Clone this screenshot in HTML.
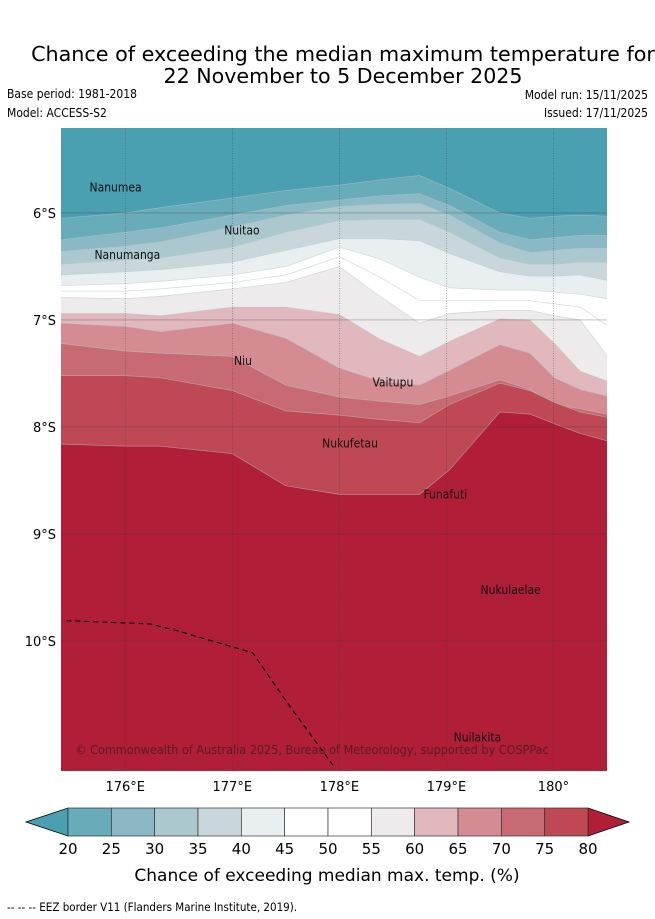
<!DOCTYPE html>
<html><head><meta charset="utf-8">
<style>
html,body{margin:0;padding:0;background:#fff;}
svg{display:block;font-family:"DejaVu Sans","Liberation Sans",sans-serif;}
.cond{font-family:"DejaVu Sans Condensed","DejaVu Sans","Liberation Sans",sans-serif;font-stretch:condensed;}
</style></head>
<body>
<svg id="chart" width="655" height="919" viewBox="0 0 655 919" xmlns="http://www.w3.org/2000/svg">
<text x="343" y="61" font-size="20.7" text-anchor="middle" fill="#000">Chance of exceeding the median maximum temperature for</text>
<text x="343" y="83" font-size="20.6" text-anchor="middle" fill="#000">22 November to 5 December 2025</text>
<text class="cond" x="7" y="98" font-size="12">Base period: 1981-2018</text>
<text class="cond" x="7" y="117" font-size="12">Model: ACCESS-S2</text>
<text class="cond" x="648" y="99" font-size="12" text-anchor="end">Model run: 15/11/2025</text>
<text class="cond" x="648" y="117" font-size="12" text-anchor="end">Issued: 17/11/2025</text>
<defs><clipPath id="mapclip"><rect x="61" y="128" width="546" height="643"/></clipPath></defs>
<g id="map" clip-path="url(#mapclip)"></g>
<g id="axes"></g>
<g id="cbar"></g>
<text x="327" y="881" font-size="17" text-anchor="middle">Chance of exceeding median max. temp. (%)</text>
<text class="cond" x="7" y="911" font-size="11.5">--  --  -- EEZ border V11 (Flanders Marine Institute, 2019).</text>
</svg>
<script>
// ---- data ----
const lons = [175.40,176.00,176.33,177.00,177.50,178.00,178.38,178.75,179.03,179.50,179.78,180.01,180.25,180.50];
const levels = [20,25,30,35,40,45,50,55,60,65,70,75,80];
// latitude (°S) of each contour boundary at each longitude
const boundaries = [
 [6.05,6.00,5.95,5.86,5.79,5.74,5.69,5.65,5.77,6.00,6.05,6.03,6.02,6.03],
 [6.25,6.18,6.14,6.02,5.93,5.88,5.84,5.82,5.93,6.18,6.25,6.23,6.21,6.21],
 [6.36,6.31,6.27,6.13,6.02,5.94,5.92,5.91,6.02,6.28,6.37,6.35,6.33,6.33],
 [6.48,6.44,6.42,6.32,6.18,6.07,6.06,6.06,6.18,6.42,6.48,6.48,6.46,6.46],
 [6.58,6.55,6.53,6.46,6.35,6.24,6.24,6.26,6.38,6.55,6.59,6.59,6.58,6.63],
 [6.68,6.66,6.64,6.58,6.50,6.32,6.43,6.60,6.70,6.72,6.72,6.74,6.76,6.80],
 [6.73,6.73,6.71,6.65,6.58,6.41,6.60,6.82,6.82,6.82,6.82,6.85,6.88,7.05],
 [6.79,6.80,6.78,6.71,6.65,6.50,6.78,7.03,6.94,6.91,6.91,6.96,7.00,7.33],
 [6.94,6.94,6.96,6.88,6.88,6.95,7.18,7.34,7.20,6.99,7.00,7.22,7.48,7.57],
 [7.03,7.06,7.11,7.03,7.17,7.45,7.57,7.61,7.47,7.23,7.31,7.54,7.65,7.71],
 [7.22,7.29,7.31,7.34,7.61,7.72,7.76,7.79,7.71,7.56,7.65,7.79,7.83,7.88],
 [7.52,7.52,7.54,7.66,7.85,7.89,7.93,7.96,7.79,7.59,7.66,7.77,7.86,7.91],
 [8.16,8.18,8.18,8.25,8.55,8.63,8.63,8.63,8.40,7.86,7.88,7.97,8.06,8.13]
];
const bandColors = ["#4A9FB1","#68ABB9","#8AB8C4","#AAC8CD","#C9D7DB","#E9EFF1","#FFFFFF","#FFFFFF","#EDEBEC","#E0B8BD","#D48C92","#C86A73","#BF4855","#B01E38"];
const lonTicks = [176,177,178,179,180];
const lonTickLabels = ["176°E","177°E","178°E","179°E","180°"];
const latTicks = [6,7,8,9,10];
const latTickLabels = ["6°S","7°S","8°S","9°S","10°S"];
const eezLons = [175.45,176.23,176.47,177.19,177.53,177.94];
const eezLats = [9.81,9.84,9.90,10.11,10.60,11.16];
const islandNames = ["Nanumea","Nuitao","Nanumanga","Niu","Vaitupu","Nukufetau","Funafuti","Nukulaelae","Nuilakita"];
const islandLons = [175.91,177.09,176.02,177.10,178.50,178.10,178.99,179.60,179.29];
const islandLats = [5.80,6.20,6.43,7.42,7.62,8.19,8.67,9.56,10.94];
// ---- axes ----
const X0=61,X1=607,Y0=128,Y1=771;
const lonMin=175.40,lonMax=180.50,latMin=5.206,latMax=11.215;
const xs=l=>X0+(l-lonMin)/(lonMax-lonMin)*(X1-X0);
const ys=l=>Y0+(l-latMin)/(latMax-latMin)*(Y1-Y0);
const NS="http://www.w3.org/2000/svg";
function mk(tag,attrs,parent){const e=document.createElementNS(NS,tag);for(const k in attrs)e.setAttribute(k,attrs[k]);parent.appendChild(e);return e;}
const map=document.getElementById('map');
const bg=mk('rect',{x:X0,y:Y0,width:X1-X0,height:Y1-Y0,fill:bandColors[0]},map);


boundaries.forEach((b,i)=>{
  let pts=lons.map((l,j)=>xs(l).toFixed(1)+','+ys(b[j]).toFixed(1));
  const line=pts.join(' ');
  const p=mk('polygon',{points:line+' '+X1+','+Y1+' '+X0+','+Y1,fill:bandColors[i+1]},map);
  
  
  const c=mk('polyline',{points:line,fill:'none',stroke:'#b7c6cb','stroke-width':0.7,opacity:0.6},map);
  
  
});
lonTicks.forEach(l=>{const g=mk('line',{x1:xs(l),x2:xs(l),y1:Y0,y2:Y1,stroke:'#333','stroke-width':0.6,'stroke-dasharray':'1,1.5',opacity:0.6},map);
  
  });
latTicks.forEach(l=>{const g=mk('line',{x1:X0,x2:X1,y1:ys(l),y2:ys(l),stroke:'#333','stroke-width':0.6,opacity:0.45},map);
  
  });
const eez=mk('polyline',{points:eezLons.map((l,j)=>xs(l)+','+ys(eezLats[j])).join(' '),fill:'none',stroke:'#000','stroke-width':1.2,'stroke-dasharray':'5,4'},map);


islandNames.forEach((n,i)=>{const t=mk('text',{x:xs(islandLons[i]),y:ys(islandLats[i]),'font-size':12,'text-anchor':'middle',fill:'#111','class':'cond'},map);t.textContent=n;
  
  });
const cr=mk('text',{x:312,y:754,'font-size':12.5,'text-anchor':'middle',fill:'#5a1a22','class':'cond'},map);cr.textContent='© Commonwealth of Australia 2025, Bureau of Meteorology, supported by COSPPac';


const ax=document.getElementById('axes');
lonTicks.forEach((l,i)=>{const t=mk('text',{x:xs(l),y:791,'font-size':13,'text-anchor':'middle'},ax);t.textContent=lonTickLabels[i];
  
  });
latTicks.forEach((l,i)=>{const t=mk('text',{x:56,y:ys(l)+5,'font-size':13,'text-anchor':'end'},ax);t.textContent=latTickLabels[i];
  
  });
// colorbar
const cb=document.getElementById('cbar');
const CX0=68,CX1=588,CY0=808,CY1=836,CM=(CY0+CY1)/2;
const cx=v=>CX0+(v-levels[0])/(levels[levels.length-1]-levels[0])*(CX1-CX0);
const lt=mk('polygon',{points:`${CX0},${CY0} ${CX0},${CY1} 26,${CM}`,fill:bandColors[0],stroke:'#000','stroke-width':0.8},cb);


const rt=mk('polygon',{points:`${CX1},${CY0} ${CX1},${CY1} 629,${CM}`,fill:bandColors[13],stroke:'#000','stroke-width':0.8},cb);


for(let i=0;i<levels.length-1;i++){
  const r=mk('rect',{x:cx(levels[i]),y:CY0,width:cx(levels[i+1])-cx(levels[i]),height:CY1-CY0,fill:bandColors[i+1],stroke:'#333','stroke-width':0.7},cb);
  
  
}
levels.forEach(v=>{const t=mk('text',{x:cx(v),y:854,'font-size':15,'text-anchor':'middle'},cb);t.textContent=v;
  
  });
</script>
</body></html>
